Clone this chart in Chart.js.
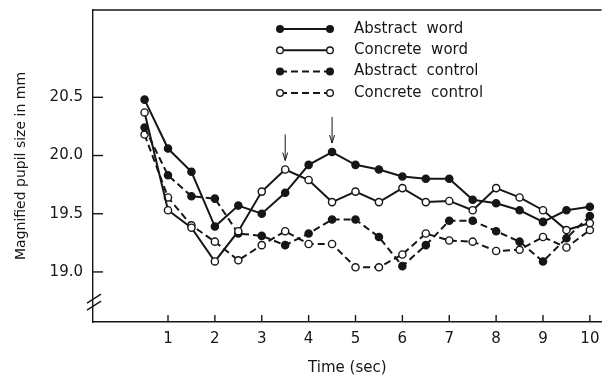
<!DOCTYPE html>
<html lang="en">
<head>
<meta charset="UTF-8">
<title>Pupil size</title>
<script src="https://cdn.jsdelivr.net/npm/chart.js"></script>
<style>
  html, body { margin: 0; padding: 0; background: #fff; }
  #wrap { width: 607px; height: 378px; }
</style>
</head>
<body>
<div id="wrap"><canvas id="pupilChart" width="607" height="378"></canvas></div>
<script>
// time in seconds, one reading every half second
var times = [0.5, 1, 1.5, 2, 2.5, 3, 3.5, 4, 4.5, 5, 5.5, 6, 6.5, 7, 7.5, 8, 8.5, 9, 9.5, 10];
var abstractWord    = [20.48, 20.06, 19.86, 19.39, 19.57, 19.50, 19.68, 19.92, 20.03, 19.92, 19.88, 19.82, 19.80, 19.80, 19.62, 19.59, 19.53, 19.43, 19.53, 19.56];
var concreteWord    = [20.37, 19.53, 19.38, 19.09, 19.35, 19.69, 19.88, 19.79, 19.60, 19.69, 19.60, 19.72, 19.60, 19.61, 19.53, 19.72, 19.64, 19.53, 19.36, 19.42];
var abstractControl = [20.24, 19.83, 19.65, 19.63, 19.33, 19.31, 19.23, 19.33, 19.45, 19.45, 19.30, 19.05, 19.23, 19.44, 19.44, 19.35, 19.26, 19.09, 19.29, 19.48];
var concreteControl = [20.18, 19.64, 19.40, 19.26, 19.10, 19.23, 19.35, 19.24, 19.24, 19.04, 19.04, 19.15, 19.33, 19.27, 19.26, 19.18, 19.19, 19.30, 19.21, 19.36];

var seriesNames = ['Abstract word', 'Concrete word', 'Abstract control', 'Concrete control'];
var xTicks = [1, 2, 3, 4, 5, 6, 7, 8, 9, 10];
var yTicks = [19.0, 19.5, 20.0, 20.5];
// arrows mark the peaks: [time, series index]
var arrowMarks = [[3.5, 1], [4.5, 0]];

var ink = '#161616';
var fontFamily = '"DejaVu Sans", "Liberation Sans", sans-serif';

function pts(values) {
    return values.map(function (v, i) { return { x: times[i], y: v }; });
}

function makeSet(label, values, filled, dashed) {
    return {
        label: label,
        data: pts(values),
        borderColor: ink,
        borderWidth: 2,
        borderDash: dashed ? [7, 4] : [],
        pointRadius: 3.6,
        pointBorderWidth: 1.4,
        pointBorderColor: ink,
        pointBackgroundColor: filled ? ink : '#fff',
        tension: 0,
        fill: false
    };
}

// ticks, top frame, axis break, arrows and the legend box
var decorations = {
    id: 'decorations',
    afterDraw: function (chart) {
        var ctx = chart.ctx;
        var area = chart.chartArea;
        var xs = chart.scales.x, ys = chart.scales.y;
        ctx.save();
        ctx.strokeStyle = ink;
        ctx.lineWidth = 1.4;
        ctx.setLineDash([]);

        // top frame line
        ctx.beginPath();
        ctx.moveTo(area.left, area.top);
        ctx.lineTo(area.right, area.top);
        ctx.stroke();

        // inward ticks
        yTicks.forEach(function (v) {
            var py = ys.getPixelForValue(v);
            ctx.beginPath();
            ctx.moveTo(area.left, py);
            ctx.lineTo(area.left + 10, py);
            ctx.stroke();
        });
        xTicks.forEach(function (v) {
            var px = xs.getPixelForValue(v);
            ctx.beginPath();
            ctx.moveTo(px, area.bottom);
            ctx.lineTo(px, area.bottom - 7);
            ctx.stroke();
        });

        // axis break marks
        var by = ys.getPixelForValue(18.75);
        [-3, 4].forEach(function (d) {
            ctx.beginPath();
            ctx.moveTo(area.left - 6, by + d + 5);
            ctx.lineTo(area.left + 8, by + d - 4);
            ctx.stroke();
        });

        // arrows above the peaks
        ctx.lineWidth = 1;
        var series = [abstractWord, concreteWord, abstractControl, concreteControl];
        arrowMarks.forEach(function (m) {
            var idx = times.indexOf(m[0]);
            var px = xs.getPixelForValue(m[0]);
            var tip = ys.getPixelForValue(series[m[1]][idx]) - 9;
            ctx.beginPath();
            ctx.moveTo(px, tip - 26);
            ctx.lineTo(px, tip);
            ctx.stroke();
            ctx.beginPath();
            ctx.moveTo(px - 2.5, tip - 8);
            ctx.lineTo(px, tip);
            ctx.lineTo(px + 2.5, tip - 8);
            ctx.stroke();
        });

        // legend
        ctx.font = '15px ' + fontFamily;
        ctx.fillStyle = ink;
        ctx.textBaseline = 'middle';
        ctx.textAlign = 'left';
        chart.data.datasets.forEach(function (ds, i) {
            var ly = 29 + i * 21.3;
            ctx.lineWidth = 2;
            ctx.setLineDash(ds.borderDash);
            ctx.beginPath();
            ctx.moveTo(280, ly);
            ctx.lineTo(330, ly);
            ctx.stroke();
            ctx.setLineDash([]);
            ctx.lineWidth = 1.4;
            [280, 330].forEach(function (cx) {
                ctx.beginPath();
                ctx.arc(cx, ly, 3.3, 0, Math.PI * 2);
                ctx.fillStyle = ds.pointBackgroundColor;
                ctx.fill();
                ctx.stroke();
            });
            ctx.fillStyle = ink;
            ctx.fillText(ds.label.replace(' ', '  '), 354, ly);
        });
        ctx.restore();
    }
};

var ctx = document.getElementById('pupilChart').getContext('2d');
var myChart = new Chart(ctx, {
    type: 'line',
    data: {
        datasets: [
            makeSet(seriesNames[0], abstractWord, true, false),
            makeSet(seriesNames[1], concreteWord, false, false),
            makeSet(seriesNames[2], abstractControl, true, true),
            makeSet(seriesNames[3], concreteControl, false, true)
        ]
    },
    options: {
        responsive: false,
        animation: false,
        clip: false,
        layout: { padding: { top: 10, right: 2, left: 0, bottom: 0 } },
        plugins: {
            legend: { display: false },
            tooltip: { enabled: false }
        },
        scales: {
            x: {
                type: 'linear',
                min: -0.6,
                max: 10.25,
                afterBuildTicks: function (s) { s.ticks = xTicks.map(function (v) { return { value: v }; }); },
                afterFit: function (s) { s.height = 56; s.paddingLeft = 0; s.paddingRight = 0; },
                grid: { display: false, drawTicks: false },
                border: { display: true, color: ink, width: 1.4 },
                ticks: { padding: 8, color: ink, font: { family: fontFamily, size: 15 } },
                title: { display: true, text: 'Time (sec)', color: ink, padding: { top: 0, bottom: 1 }, font: { family: fontFamily, size: 15 } }
            },
            y: {
                min: 18.57,
                max: 21.25,
                afterBuildTicks: function (s) { s.ticks = yTicks.map(function (v) { return { value: v }; }); },
                afterFit: function (s) { s.width = 93; s.paddingTop = 0; s.paddingBottom = 0; },
                grid: { display: false, drawTicks: false },
                border: { display: true, color: ink, width: 1.4 },
                ticks: {
                    padding: 10, color: ink, font: { family: fontFamily, size: 15 },
                    callback: function (v) { return v.toFixed(1); }
                },
                title: { display: true, text: 'Magnified pupil size in mm', color: ink, padding: { top: 13, bottom: 0 }, font: { family: fontFamily, size: 14 } }
            }
        }
    },
    plugins: [decorations]
});
</script>
</body>
</html>
